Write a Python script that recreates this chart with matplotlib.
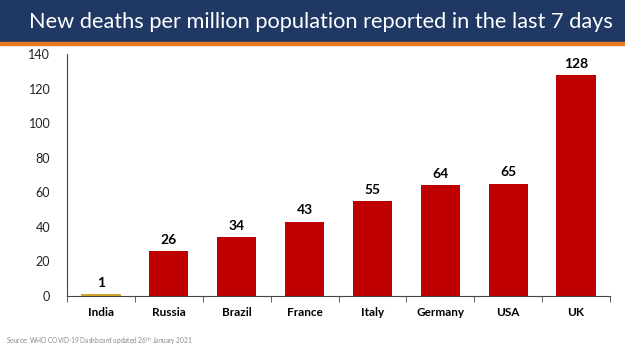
import matplotlib.pyplot as plt
from matplotlib.patches import Rectangle

countries = ["India", "Russia", "Brazil", "France", "Italy", "Germany", "USA", "UK"]
deaths = [1, 26, 34, 43, 55, 64, 65, 128]
bar_colors = ["#D4A72C"] + ["#C00000"] * 7
yticks = [0, 20, 40, 60, 80, 100, 120, 140]

TITLE = "New deaths per million population reported in the last 7 days"
SOURCE = "Source: WHO COVID-19 Dashboard updated 26$^{th}$ January 2021"

plt.rcParams["font.family"] = ["Lato", "DejaVu Sans"]

fig = plt.figure(figsize=(6.25, 3.51), dpi=100)

# title banner
fig.patches.append(Rectangle((0, 1 - 42 / 351), 1, 42 / 351, transform=fig.transFigure,
                             color="#1F3864", zorder=0))
fig.patches.append(Rectangle((0, 1 - 45 / 351), 1, 3 / 351, transform=fig.transFigure,
                             color="#E87722", zorder=0))
fig.text(321 / 625, 1 - 22 / 351, TITLE, color="white", fontsize=15.7, ha="center", va="center")

ax = fig.add_axes([67 / 625, 1 - 296 / 351, (610 - 67) / 625, (296 - 54) / 351])
x = range(len(countries))
bars = ax.bar(x, deaths, width=0.58, color=bar_colors)
for i, v in enumerate(deaths):
    ax.text(i, v + 3, str(v), ha="center", va="bottom", fontsize=10, fontweight="bold")

ax.set_xlim(-0.5, len(countries) - 0.5)
ax.set_ylim(0, 140)
ax.set_yticks(yticks)
ax.tick_params(axis="y", length=0, labelsize=9, pad=12, colors="#222222")
ax.set_xticks(x)
ax.set_xticklabels(countries, fontweight="bold", fontsize=8.5)
ax.tick_params(axis="x", length=0, pad=8)
# boundary ticks between categories
ax.set_xticks([i - 0.5 for i in range(len(countries) + 1)], minor=True)
ax.tick_params(axis="x", which="minor", length=4, color="#444444")
for s in ["top", "right"]:
    ax.spines[s].set_visible(False)
ax.spines["left"].set_color("#444444")
ax.spines["bottom"].set_color("#444444")

fig.text(6 / 625, 1 - 341 / 351, SOURCE, fontsize=4.7, color="#888888", va="center")

fig.savefig("out.png", dpi=100)
